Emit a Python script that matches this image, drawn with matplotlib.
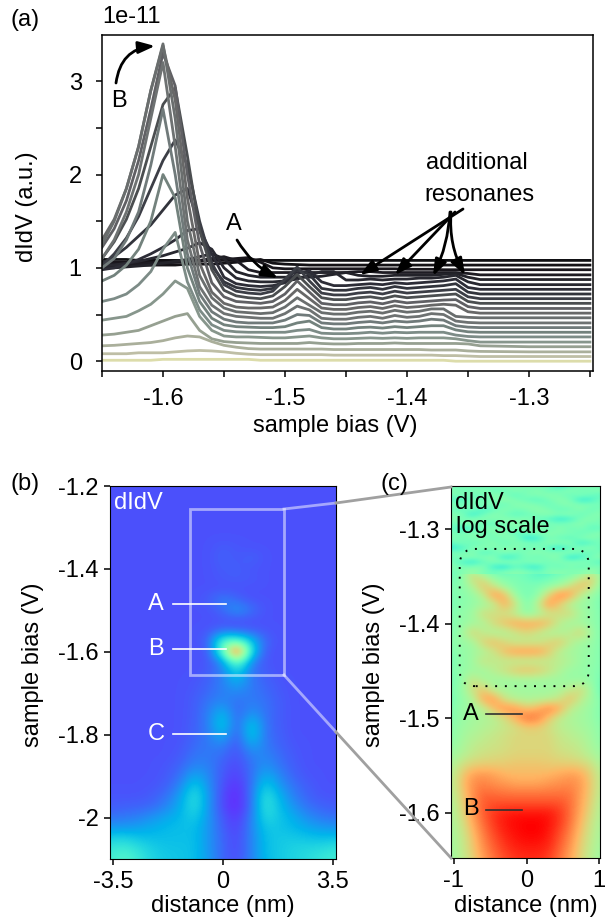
import numpy as np
from matplotlib import pyplot as plt
from matplotlib.lines import Line2D
from matplotlib.patches import FancyBboxPatch, FancyArrowPatch, Rectangle

plt.rcParams['font.family'] = ['Liberation Sans', 'DejaVu Sans']
plt.rcParams['axes.unicode_minus'] = False

W, H = 614, 922
FS = 17

# -------------------------------
# DATA (a) spectra, unit 1e-11
# -------------------------------
bias = [-1.65, -1.64, -1.63, -1.62, -1.61, -1.60, -1.59, -1.58, -1.57, -1.56, -1.55, -1.54,
        -1.53, -1.52, -1.51, -1.50, -1.49, -1.48, -1.47, -1.46, -1.45, -1.44, -1.43, -1.42,
        -1.41, -1.40, -1.39, -1.38, -1.37, -1.36, -1.35, -1.34, -1.30, -1.25]

spectra = [
    [.01, .01, .01, .01, .01, .02, .02, .02, .02, .02, .02, .02, .02, .01, .01, .01, .01, .01, .01, .01, .01, .01, .01, .01, .01, .01, .01, .01, .01, .00, .00, .00, .00, .00],
    [.08, .08, .08, .09, .09, .09, .10, .11, .115, .11, .10, .085, .075, .07, .07, .07, .07, .07, .07, .065, .065, .065, .065, .065, .065, .065, .065, .065, .06, .06, .055, .05, .05, .05],
    [.165, .17, .18, .19, .20, .22, .25, .27, .26, .21, .17, .15, .135, .13, .13, .13, .13, .13, .13, .125, .125, .125, .125, .125, .125, .125, .125, .12, .12, .12, .11, .105, .10, .10],
    [.28, .29, .31, .33, .38, .43, .48, .51, .33, .24, .21, .20, .195, .19, .19, .19, .19, .20, .19, .185, .185, .19, .19, .19, .195, .19, .19, .19, .19, .19, .185, .165, .155, .155],
    [.44, .46, .48, .54, .61, .72, .86, .78, .48, .33, .27, .26, .26, .255, .25, .25, .26, .27, .25, .24, .24, .245, .25, .245, .25, .245, .25, .25, .25, .24, .22, .205, .205, .205],
    [.64, .67, .72, .82, .96, 1.2, 1.38, .85, .55, .39, .33, .315, .31, .31, .31, .31, .33, .34, .30, .295, .295, .30, .31, .30, .31, .305, .31, .31, .31, .28, .265, .26, .26, .26],
    [.86, .92, 1.03, 1.2, 1.5, 2.0, 1.75, 1.0, .64, .46, .39, .37, .365, .36, .36, .37, .41, .43, .36, .345, .345, .36, .365, .355, .37, .36, .37, .38, .38, .335, .315, .31, .31, .31],
    [1.0, 1.1, 1.3, 1.6, 2.1, 2.7, 2.0, 1.15, .72, .53, .45, .42, .41, .41, .41, .44, .50, .49, .41, .40, .40, .415, .425, .41, .43, .42, .43, .45, .44, .38, .365, .36, .36, .36],
    [1.1, 1.3, 1.6, 2.0, 2.6, 3.2, 2.3, 1.3, .80, .60, .51, .48, .47, .46, .46, .51, .59, .55, .46, .45, .45, .47, .48, .46, .49, .47, .48, .51, .50, .43, .415, .41, .41, .41],
    [1.25, 1.5, 1.85, 2.3, 2.9, 3.4, 2.6, 1.5, .92, .68, .57, .53, .52, .51, .52, .58, .68, .60, .52, .505, .505, .525, .535, .515, .545, .525, .535, .56, .56, .48, .47, .465, .465, .465],
    [1.3, 1.52, 1.85, 2.3, 2.9, 3.38, 2.8, 1.75, 1.05, .74, .62, .58, .57, .57, .58, .65, .77, .67, .57, .555, .555, .575, .585, .565, .595, .575, .585, .60, .61, .60, .53, .515, .515, .515],
    [1.22, 1.42, 1.72, 2.15, 2.7, 3.3, 2.95, 2.0, 1.25, .84, .69, .64, .63, .62, .64, .72, .86, .74, .62, .605, .605, .625, .635, .615, .645, .625, .635, .645, .655, .66, .585, .565, .565, .565],
    [1.1, 1.28, 1.52, 1.85, 2.3, 2.75, 2.93, 2.2, 1.4, .98, .76, .70, .68, .67, .70, .80, .93, .80, .68, .66, .66, .68, .69, .67, .70, .68, .69, .70, .71, .72, .64, .62, .62, .62],
    [1.02, 1.15, 1.32, 1.55, 1.85, 2.15, 2.37, 2.1, 1.5, 1.05, .82, .75, .73, .72, .75, .88, 1.01, .86, .73, .71, .71, .73, .74, .72, .75, .73, .74, .75, .76, .77, .69, .67, .67, .67],
    [1.05, 1.12, 1.22, 1.34, 1.46, 1.62, 1.78, 1.85, 1.44, 1.02, .85, .79, .77, .76, .78, .87, .98, .93, .78, .76, .76, .78, .79, .77, .80, .78, .79, .80, .81, .83, .74, .72, .72, .72],
    [.98, 1.0, 1.04, 1.09, 1.15, 1.22, 1.3, 1.4, 1.42, 1.15, .90, .83, .81, .80, .81, .84, .94, .97, .85, .81, .81, .82, .83, .82, .84, .83, .84, .85, .86, .88, .79, .77, .77, .77],
    [1.02, 1.03, 1.05, 1.07, 1.1, 1.13, 1.17, 1.21, 1.27, 1.2, 1.0, .89, .86, .85, .85, .86, .88, .92, .96, .96, .87, .87, .88, .87, .88, .88, .89, .89, .90, .92, .85, .82, .82, .82],
    [1.0, 1.0, 1.01, 1.02, 1.03, 1.05, 1.07, 1.09, 1.12, 1.15, 1.1, .96, .92, .90, .90, .90, .90, .90, .91, .93, .95, .92, .91, .91, .92, .92, .92, .92, .93, .94, .90, .875, .875, .875],
    [1.04, 1.04, 1.04, 1.04, 1.05, 1.05, 1.06, 1.07, 1.08, 1.1, 1.12, 1.08, .98, .95, .95, .95, .95, .95, .95, .95, .95, .96, .96, .95, .95, .95, .95, .95, .95, .95, .94, .925, .925, .925],
    [1.06, 1.06, 1.06, 1.06, 1.06, 1.06, 1.06, 1.07, 1.07, 1.08, 1.09, 1.10, 1.11, 1.06, 1.0, .99, .99, .99, .99, .99, .99, .99, .99, .99, .99, .985, .985, .985, .98, .98, .98, .98, .98, .98],
    [1.02, 1.02, 1.02, 1.03, 1.03, 1.03, 1.03, 1.04, 1.04, 1.04, 1.05, 1.06, 1.08, 1.09, 1.05, 1.04, 1.035, 1.03, 1.03, 1.03, 1.03, 1.03, 1.03, 1.03, 1.03, 1.03, 1.03, 1.03, 1.03, 1.03, 1.03, 1.03, 1.03, 1.03],
    [1.09, 1.09, 1.09, 1.08, 1.08, 1.08, 1.08, 1.08, 1.08, 1.08, 1.08, 1.08, 1.08, 1.08, 1.08, 1.08, 1.08, 1.08, 1.08, 1.08, 1.08, 1.08, 1.08, 1.08, 1.08, 1.08, 1.08, 1.08, 1.08, 1.08, 1.08, 1.08, 1.08, 1.08],
]

spectra_colors = ['#dcdcaa', '#bebea5', '#aaaf9b', '#96a091', '#87968c', '#7d8c87', '#73827d', '#707a7a',
                  '#6e7272', '#6a6e6e', '#686868', '#606064', '#4b4e50', '#3c3e46', '#32343c', '#2d2d37',
                  '#282830', '#23232a', '#1e1c23', '#19161c', '#141216', '#0f0f12']

# -------------------------------
# DATA (b) map, rows -1.2 ... -2.1 every 0.025 V, columns -3.6 ... 3.6 every 0.45 nm
# -------------------------------
map_b_extent = [-3.825, 3.825, -2.1125, -1.1875]

map_b = [
    [.105, .105, .105, .105, .105, .105, .105, .105, .105, .105, .105, .105, .105, .105, .105, .105, .105],
    [.105, .105, .105, .105, .105, .105, .105, .105, .105, .105, .105, .105, .105, .105, .105, .105, .105],
    [.105, .105, .105, .105, .105, .105, .105, .105, .105, .105, .105, .105, .105, .105, .105, .105, .105],
    [.105, .105, .105, .105, .105, .105, .105, .105, .105, .105, .105, .105, .105, .105, .105, .105, .105],
    [.105, .105, .105, .105, .105, .105, .105, .105, .105, .105, .105, .105, .105, .105, .105, .105, .105],
    [.105, .105, .105, .105, .105, .105, .105, .105, .105, .105, .105, .105, .105, .105, .105, .105, .105],
    [.105, .105, .105, .105, .105, .105, .105, .105, .12, .11, .105, .105, .105, .105, .105, .105, .105],
    [.105, .105, .105, .105, .105, .105, .105, .105, .13, .11, .13, .105, .105, .105, .105, .105, .105],
    [.105, .105, .105, .105, .105, .105, .105, .105, .12, .12, .11, .105, .105, .105, .105, .105, .105],
    [.105, .105, .105, .105, .105, .105, .105, .105, .115, .12, .115, .105, .105, .105, .105, .105, .105],
    [.105, .105, .105, .105, .105, .105, .105, .105, .105, .105, .105, .105, .105, .105, .105, .105, .105],
    [.105, .105, .105, .105, .105, .105, .105, .12, .17, .13, .105, .105, .105, .105, .105, .105, .105],
    [.105, .105, .105, .105, .105, .105, .105, .105, .14, .21, .15, .105, .105, .105, .105, .105, .105],
    [.105, .105, .105, .105, .105, .105, .105, .105, .105, .105, .105, .105, .105, .105, .105, .105, .105],
    [.105, .105, .105, .105, .105, .105, .105, .11, .14, .13, .12, .11, .105, .105, .105, .105, .105],
    [.105, .105, .105, .105, .105, .105, .105, .13, .42, .42, .28, .13, .105, .105, .105, .105, .105],
    [.105, .105, .105, .105, .105, .105, .105, .11, .45, 1.0, .32, .11, .105, .105, .105, .105, .105],
    [.105, .105, .105, .105, .105, .105, .105, .11, .20, .50, .18, .11, .105, .105, .105, .105, .105],
    [.105, .105, .105, .105, .105, .105, .105, .12, .17, .32, .15, .12, .105, .105, .105, .105, .105],
    [.105, .105, .105, .105, .105, .105, .11, .13, .17, .24, .16, .13, .11, .105, .105, .105, .105],
    [.105, .105, .105, .105, .105, .105, .115, .14, .17, .18, .16, .14, .115, .105, .105, .105, .105],
    [.105, .105, .105, .105, .105, .105, .12, .16, .19, .14, .17, .15, .12, .105, .105, .105, .105],
    [.105, .105, .105, .105, .105, .105, .12, .17, .27, .12, .21, .15, .12, .105, .105, .105, .105],
    [.105, .105, .105, .105, .105, .105, .125, .17, .31, .11, .30, .15, .12, .105, .105, .105, .105],
    [.105, .105, .105, .105, .105, .105, .13, .16, .26, .10, .31, .15, .125, .105, .105, .105, .105],
    [.105, .105, .105, .105, .105, .11, .14, .16, .18, .10, .24, .16, .13, .11, .105, .105, .105],
    [.105, .105, .105, .105, .105, .115, .155, .16, .14, .10, .17, .18, .14, .115, .105, .105, .105],
    [.105, .105, .105, .105, .11, .13, .18, .17, .12, .09, .15, .20, .155, .12, .105, .105, .105],
    [.105, .105, .105, .105, .115, .15, .24, .18, .11, .08, .14, .25, .18, .13, .11, .105, .105],
    [.105, .105, .105, .11, .125, .18, .31, .19, .10, .06, .14, .31, .21, .15, .12, .105, .105],
    [.11, .11, .11, .12, .15, .22, .35, .20, .09, .05, .14, .36, .25, .17, .13, .11, .11],
    [.12, .125, .13, .14, .18, .24, .34, .20, .09, .05, .14, .36, .27, .20, .15, .13, .12],
    [.15, .16, .17, .20, .23, .26, .30, .20, .11, .07, .16, .33, .28, .24, .19, .16, .15],
    [.21, .21, .22, .24, .26, .27, .27, .20, .12, .08, .17, .29, .28, .26, .23, .21, .20],
    [.30, .31, .28, .27, .27, .27, .27, .20, .13, .09, .17, .27, .29, .29, .28, .27, .28],
    [.36, .38, .34, .30, .28, .28, .27, .20, .13, .09, .17, .27, .29, .31, .32, .33, .35],
    [.38, .42, .37, .31, .29, .28, .27, .21, .13, .10, .17, .26, .29, .31, .33, .36, .38],
]

# -------------------------------
# DATA (c) log map, rows -1.25 ... -1.65 every 0.01 V, columns -1.05 ... 1.05 every 0.15 nm
# -------------------------------
map_c_extent = [-1.125, 1.125, -1.655, -1.245]

map_c = [
    [.50, .52, .50, .49, .52, .54, .52, .50, .53, .54, .52, .50, .51, .53, .50],
    [.46, .44, .48, .50, .47, .46, .50, .52, .48, .44, .42, .46, .50, .48, .46],
    [.52, .53, .50, .46, .50, .53, .52, .50, .51, .53, .52, .50, .44, .42, .47],
    [.49, .46, .42, .46, .50, .48, .44, .46, .50, .50, .47, .50, .52, .50, .52],
    [.50, .52, .50, .53, .52, .50, .52, .54, .50, .46, .42, .40, .46, .50, .50],
    [.44, .40, .44, .48, .52, .50, .47, .50, .52, .53, .52, .50, .52, .50, .47],
    [.52, .52, .50, .46, .42, .44, .50, .52, .47, .44, .47, .50, .47, .44, .48],
    [.48, .50, .53, .52, .50, .50, .44, .40, .42, .48, .52, .53, .52, .50, .52],
    [.44, .42, .44, .48, .50, .44, .42, .46, .50, .46, .40, .38, .44, .48, .46],
    [.48, .50, .48, .44, .40, .38, .44, .50, .44, .36, .42, .48, .50, .46, .48],
    [.47, .50, .70, .60, .52, .50, .50, .46, .42, .46, .50, .50, .56, .70, .52],
    [.50, .52, .60, .74, .62, .53, .50, .50, .50, .52, .54, .64, .76, .68, .50],
    [.50, .52, .54, .62, .82, .74, .54, .48, .52, .68, .84, .80, .62, .54, .50],
    [.48, .52, .54, .56, .60, .78, .66, .50, .62, .82, .70, .58, .55, .54, .48],
    [.50, .54, .56, .68, .66, .64, .60, .52, .56, .62, .66, .68, .58, .54, .50],
    [.50, .54, .56, .58, .68, .74, .78, .78, .78, .74, .62, .56, .56, .54, .50],
    [.50, .55, .70, .62, .58, .58, .64, .68, .64, .58, .58, .62, .70, .56, .50],
    [.52, .55, .56, .70, .74, .68, .62, .62, .62, .68, .72, .62, .56, .55, .50],
    [.50, .54, .56, .58, .64, .74, .80, .80, .80, .72, .60, .57, .56, .54, .50],
    [.48, .54, .56, .66, .62, .62, .60, .60, .60, .62, .62, .60, .55, .54, .50],
    [.50, .54, .56, .56, .62, .66, .72, .74, .72, .66, .60, .55, .55, .53, .50],
    [.48, .53, .66, .58, .56, .56, .56, .56, .56, .56, .56, .55, .55, .54, .47],
    [.50, .54, .66, .72, .60, .58, .57, .57, .57, .57, .58, .62, .68, .56, .45],
    [.48, .54, .58, .78, .80, .64, .60, .58, .59, .60, .64, .74, .62, .56, .50],
    [.50, .55, .57, .60, .74, .82, .80, .72, .76, .84, .78, .62, .58, .55, .50],
    [.50, .55, .57, .59, .60, .66, .76, .86, .84, .72, .62, .59, .57, .55, .50],
    [.52, .56, .58, .60, .62, .64, .66, .70, .70, .66, .62, .60, .58, .56, .52],
    [.52, .57, .60, .62, .64, .66, .68, .68, .68, .68, .64, .62, .60, .57, .52],
    [.54, .58, .62, .64, .65, .66, .68, .68, .68, .68, .65, .64, .62, .58, .54],
    [.56, .60, .64, .66, .67, .68, .69, .69, .69, .69, .67, .66, .64, .60, .56],
    [.58, .66, .70, .71, .71, .71, .72, .72, .72, .71, .71, .71, .70, .66, .58],
    [.60, .70, .78, .80, .78, .75, .74, .74, .74, .75, .77, .79, .77, .69, .60],
    [.60, .71, .81, .83, .81, .80, .78, .78, .78, .80, .81, .82, .79, .70, .60],
    [.60, .69, .80, .87, .86, .85, .85, .85, .85, .85, .85, .85, .78, .69, .60],
    [.58, .68, .80, .88, .90, .90, .90, .90, .90, .90, .90, .86, .77, .68, .58],
    [.58, .66, .78, .88, .93, .96, .97, .97, .97, .97, .93, .86, .76, .66, .58],
    [.58, .64, .76, .86, .93, .97, .99, 1.0, 1.0, .98, .93, .85, .74, .64, .58],
    [.57, .63, .73, .84, .91, .96, .98, 1.0, 1.0, .97, .91, .83, .72, .63, .57],
    [.57, .62, .71, .82, .89, .94, .97, .98, .98, .96, .89, .81, .70, .62, .57],
    [.56, .62, .70, .80, .87, .92, .95, .96, .96, .94, .87, .79, .69, .61, .56],
    [.56, .61, .68, .78, .85, .90, .93, .94, .94, .92, .85, .77, .68, .60, .56],
]

# noisy top of (c), rows -1.25 ... -1.345 every 0.005 V
map_c_top_extent = [-1.125, 1.125, -1.3475, -1.2475]

map_c_top = [
    [.50, .47, .52, .50, .47, .53, .54, .50, .52, .52, .50, .46, .50, .53, .50],
    [.46, .50, .47, .44, .50, .50, .48, .50, .47, .50, .36, .44, .52, .48, .46],
    [.52, .47, .50, .52, .46, .47, .52, .48, .52, .46, .48, .52, .47, .50, .52],
    [.48, .52, .46, .48, .52, .50, .44, .50, .50, .52, .50, .46, .50, .46, .44],
    [.44, .40, .50, .46, .50, .53, .50, .46, .44, .48, .52, .50, .36, .40, .50],
    [.52, .50, .47, .52, .48, .46, .52, .52, .50, .46, .50, .52, .50, .50, .47],
    [.47, .44, .50, .40, .46, .52, .48, .50, .53, .50, .46, .47, .52, .46, .50],
    [.50, .52, .36, .46, .52, .48, .44, .46, .50, .52, .50, .52, .46, .50, .52],
    [.52, .48, .50, .52, .50, .52, .50, .52, .46, .44, .36, .40, .50, .52, .48],
    [.46, .50, .52, .47, .44, .50, .53, .48, .50, .50, .48, .50, .52, .47, .50],
    [.50, .36, .42, .50, .52, .47, .50, .50, .52, .46, .52, .47, .50, .44, .46],
    [.48, .50, .52, .46, .50, .53, .44, .47, .50, .52, .50, .50, .46, .50, .52],
    [.52, .47, .50, .52, .47, .50, .52, .34, .38, .50, .47, .44, .50, .52, .47],
    [.44, .50, .46, .48, .52, .46, .50, .50, .47, .52, .50, .52, .38, .44, .50],
    [.36, .40, .50, .52, .50, .50, .52, .46, .50, .44, .36, .46, .50, .52, .44],
    [.50, .47, .52, .42, .46, .52, .47, .50, .52, .50, .50, .52, .47, .46, .50],
    [.46, .52, .50, .50, .52, .36, .42, .50, .46, .50, .52, .34, .40, .50, .52],
    [.50, .42, .36, .46, .50, .52, .50, .48, .52, .47, .50, .50, .52, .47, .42],
    [.52, .50, .50, .52, .38, .34, .46, .40, .36, .50, .46, .50, .46, .50, .50],
    [.47, .50, .56, .50, .47, .50, .52, .50, .46, .50, .52, .50, .52, .56, .47],
]

a_xticks = [-1.6, -1.5, -1.4, -1.3]
a_xticks_minor = [-1.65, -1.55, -1.45, -1.35, -1.25]
a_yticks = [0, 1, 2, 3]
a_yticks_minor = [0.5, 1.5, 2.5]
b_yticks = [-1.2, -1.4, -1.6, -1.8, -2]
b_ylabels = ['-1.2', '-1.4', '-1.6', '-1.8', '-2']
b_xticks = [-3.5, 0, 3.5]
c_yticks = [-1.3, -1.4, -1.5, -1.6]
c_xticks = [-1, 0, 1]


def xy(px, py):
    # picture pixels to figure fraction
    return px / W, 1 - py / H


def box(left, top, right, bottom):
    return [left / W, 1 - bottom / H, (right - left) / W, (bottom - top) / H]


def label(px, py, s, color='black', ha='left', size=FS):
    x, y = xy(px, py)
    fig.text(x, y, s, color=color, ha=ha, va='center', fontsize=size, zorder=20)


def seg(x0, y0, x1, y1, color, lw=1.2, alpha=1.0):
    a, b = xy(x0, y0), xy(x1, y1)
    fig.add_artist(Line2D([a[0], b[0]], [a[1], b[1]], color=color, lw=lw, alpha=alpha, zorder=15))


def arrow(x0, y0, x1, y1, rad=0.0):
    fig.add_artist(FancyArrowPatch(xy(x0, y0), xy(x1, y1), transform=fig.transFigure,
                                   connectionstyle=f"arc3,rad={rad}",
                                   arrowstyle="-|>,head_length=0.55,head_width=0.2",
                                   mutation_scale=18, lw=2.0, color='black',
                                   shrinkA=0, shrinkB=0, zorder=16))


fig = plt.figure(figsize=(W / 100, H / 100), dpi=100)

# -------------------------------
# PANEL A
# -------------------------------
ax_a = fig.add_axes(box(102, 35, 593, 371))

for curve, color in list(zip(spectra, spectra_colors))[::-1]:
    ax_a.plot(bias, curve, color=color, lw=2.0, solid_joinstyle='round')

ax_a.set_xlim(-1.65, -1.2475)
ax_a.set_ylim(-0.105, 3.495)
ax_a.set_xticks(a_xticks)
ax_a.set_xticks(a_xticks_minor, minor=True)
ax_a.set_yticks(a_yticks)
ax_a.set_yticks(a_yticks_minor, minor=True)
ax_a.tick_params(which='both', length=4.5, width=1.1, labelsize=FS)
ax_a.tick_params(axis='x', pad=8)
ax_a.tick_params(axis='y', pad=10)
ax_a.set_xlabel("sample bias (V)", fontsize=FS)
ax_a.set_ylabel("dIdV (a.u.)", fontsize=FS)
ax_a.xaxis.set_label_coords(0.4745, -0.131)
ax_a.yaxis.set_label_coords(-0.13, 0.488)
for s in ax_a.spines.values():
    s.set_linewidth(1.1)

label(11, 20, "(a)")
label(102, 17, "1e-11")
label(119, 101, "B", ha='center')
label(234, 224, "A", ha='center')
label(477, 163, "additional", ha='center')
label(479, 195, "resonanes", ha='center')

arrow(116, 83, 155, 46, rad=-0.4)
arrow(237, 240, 278, 278, rad=0.15)
arrow(463, 209, 360, 275)
arrow(455, 212, 395, 275)
arrow(450, 212, 433, 276, rad=-0.1)
arrow(451, 212, 465, 275, rad=0.15)

# -------------------------------
# PANEL B
# -------------------------------
ax_b = fig.add_axes(box(110, 486, 336, 859))
ax_b.imshow(np.array(map_b), cmap='rainbow', vmin=0, vmax=1, aspect='auto',
            extent=map_b_extent, origin='upper', interpolation='bicubic')
ax_b.set_xlim(-3.6, 3.6)
ax_b.set_ylim(-2.1, -1.2)
ax_b.set_xticks(b_xticks)
ax_b.set_xticklabels(['-3.5', '0', '3.5'])
ax_b.set_yticks(b_yticks)
ax_b.set_yticklabels(b_ylabels)
ax_b.tick_params(length=4.5, width=1.1, labelsize=FS)
ax_b.tick_params(axis='x', pad=4)
ax_b.set_xlabel("distance (nm)", fontsize=FS)
ax_b.set_ylabel("sample bias (V)", fontsize=FS)
ax_b.xaxis.set_label_coords(0.5, -0.0965)
ax_b.yaxis.set_label_coords(-0.29, 0.52)
ax_b.add_patch(Rectangle((-1.05, -1.655), 2.99, 0.4, fill=False, ec='white', alpha=0.5, lw=2))

label(11, 484, "(b)")
label(114, 503, "dIdV", color='white')
label(156, 604, "A", color='white', ha='center')
label(156, 649, "B", color='white', ha='center')
label(156, 734, "C", color='white', ha='center')
seg(173, 604, 226, 604, 'white')
seg(173, 649, 226, 649, 'white')
seg(173, 734, 226, 734, 'white')

# zoom lines b -> c
seg(284, 509, 336, 503, 'white', lw=2, alpha=0.5)
seg(336, 503, 451, 487, '#a0a0a0', lw=2)
seg(284, 675, 336, 732, 'white', lw=2, alpha=0.5)
seg(336, 732, 451, 858, '#a0a0a0', lw=2)

# -------------------------------
# PANEL C
# -------------------------------
ax_c = fig.add_axes(box(451, 486, 600, 858))
ax_c.imshow(np.array(map_c), cmap='rainbow', vmin=0, vmax=1, aspect='auto',
            extent=map_c_extent, origin='upper', interpolation='bicubic')
ax_c.imshow(np.array(map_c_top), cmap='rainbow', vmin=0, vmax=1, aspect='auto',
            extent=map_c_top_extent, origin='upper', interpolation='bicubic')
ax_c.set_xlim(-1.04, 1.01)
ax_c.set_ylim(-1.6476, -1.2545)
ax_c.set_xticks(c_xticks)
ax_c.set_xticklabels(['-1', '0', '1'])
ax_c.set_yticks(c_yticks)
ax_c.set_yticklabels(['-1.3', '-1.4', '-1.5', '-1.6'])
ax_c.tick_params(length=4.5, width=1.1, labelsize=FS)
ax_c.tick_params(axis='x', pad=4)
ax_c.set_xlabel("distance (nm)", fontsize=FS)
ax_c.set_ylabel("sample bias (V)", fontsize=FS)
ax_c.xaxis.set_label_coords(0.5, -0.0995)
ax_c.yaxis.set_label_coords(-0.44, 0.52)
ax_c.add_patch(FancyBboxPatch((-0.92, -1.466), 1.775, 0.145,
                              boxstyle="round,pad=0,rounding_size=0.22",
                              mutation_aspect=72.5 / 945, fill=False, ec='black',
                              lw=1.4, ls=(0, (1, 4))))

label(380, 484, "(c)")
label(455, 503, "dIdV")
label(456, 527, "log scale")
label(471, 714, "A", ha='center')
label(471, 809, "B", ha='center')
seg(486, 713.5, 522, 713.5, '#303030')
seg(486, 809.5, 522, 809.5, '#303030')

plt.savefig("out.png", dpi=100)
